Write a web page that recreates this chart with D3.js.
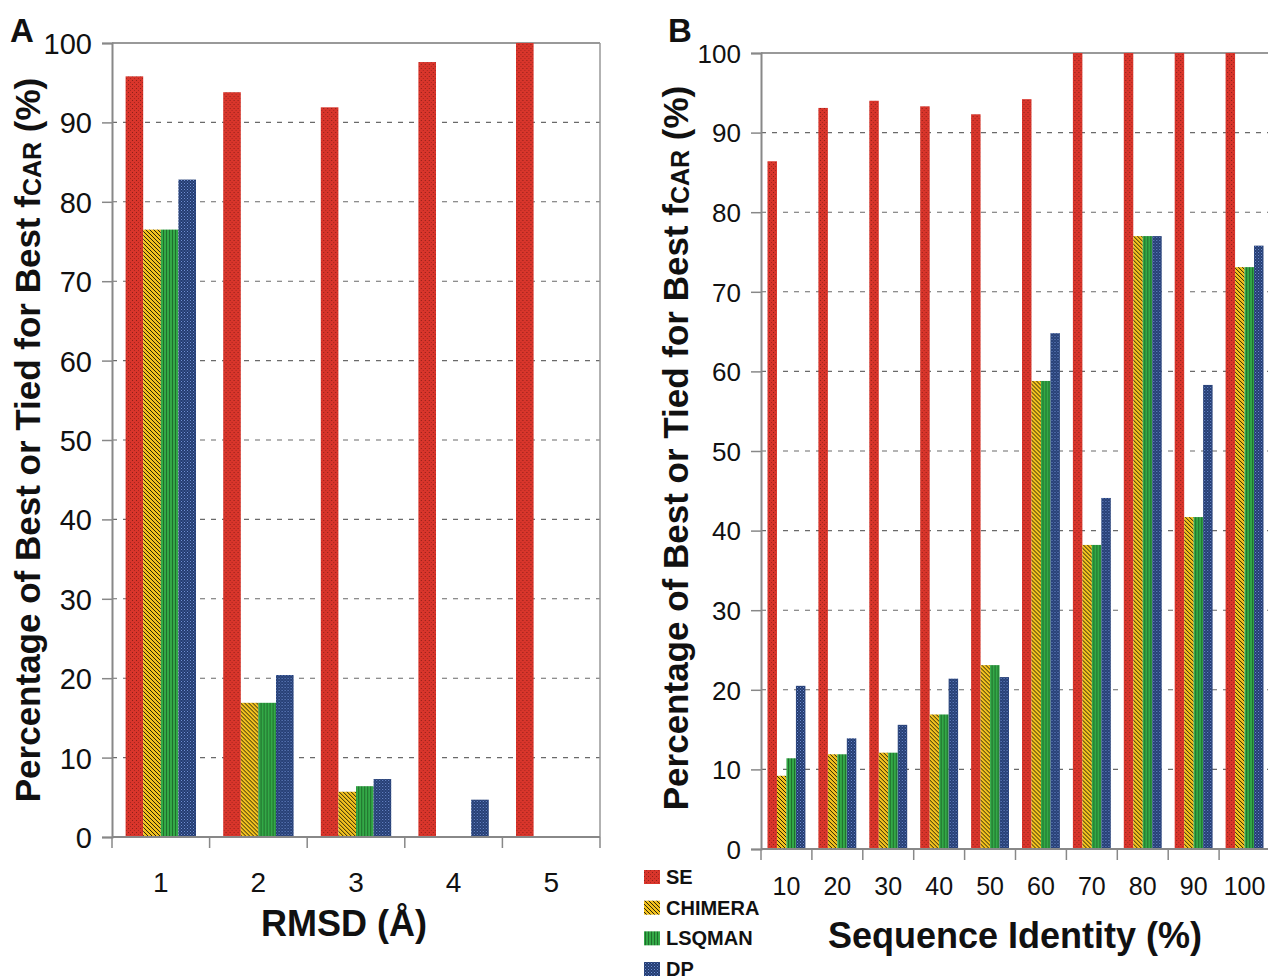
<!DOCTYPE html>
<html><head><meta charset="utf-8">
<script src="https://cdn.jsdelivr.net/npm/d3@7"></script>
<style>
html,body{margin:0;padding:0;background:#fff;}
svg{display:block;font-family:"Liberation Sans",Arial,sans-serif;}
</style></head>
<body>
<svg id="chart" width="1268" height="980"></svg>
<script>
// ---------- DATA ----------
const series = ["SE", "CHIMERA", "LSQMAN", "DP"];

// Panel A: RMSD (Å)
const rmsdCategories = ["1", "2", "3", "4", "5"];
const rmsdSE      = [95.8, 93.8, 91.9, 97.6, 100];
const rmsdCHIMERA = [76.5, 16.9, 5.7, 0, 0];
const rmsdLSQMAN  = [76.5, 16.9, 6.4, 0, 0];
const rmsdDP      = [82.8, 20.4, 7.3, 4.7, 0];

// Panel B: Sequence identity (%)
const seqCategories = ["10", "20", "30", "40", "50", "60", "70", "80", "90", "100"];
const seqSE      = [86.4, 93.1, 94.0, 93.3, 92.3, 94.2, 100, 100, 100, 100];
const seqCHIMERA = [9.2, 11.9, 12.1, 16.9, 23.1, 58.8, 38.2, 77.0, 41.7, 73.1];
const seqLSQMAN  = [11.4, 11.9, 12.1, 16.9, 23.1, 58.8, 38.2, 77.0, 41.7, 73.1];
const seqDP      = [20.5, 13.9, 15.6, 21.4, 21.6, 64.8, 44.1, 77.0, 58.3, 75.8];

const yTicks = [0, 10, 20, 30, 40, 50, 60, 70, 80, 90, 100];
const yTitleMain = "Percentage of Best or Tied for Best f";
const yTitleSub = "CAR";
const yTitleEnd = " (%)";
// ---------------------------

const svg = d3.select("#chart");
const defs = svg.append("defs");

// patterns
const pSE = defs.append("pattern").attr("id","pSE").attr("patternUnits","userSpaceOnUse").attr("width",4).attr("height",4);
pSE.append("rect").attr("width",4).attr("height",4).attr("fill","#d9352b");
pSE.append("rect").attr("x",0).attr("y",0).attr("width",1).attr("height",1).attr("fill","#8c2019");
pSE.append("rect").attr("x",2).attr("y",2).attr("width",1).attr("height",1).attr("fill","#a8261f");

const pCH = defs.append("pattern").attr("id","pCH").attr("patternUnits","userSpaceOnUse").attr("width",4).attr("height",4);
pCH.append("rect").attr("width",4).attr("height",4).attr("fill","#f3c11e");
pCH.append("path").attr("d","M-1,-1 L5,5 M3,-1 L5,1 M-1,3 L1,5").attr("stroke","#2a2508").attr("stroke-width",1);

const pLS = defs.append("pattern").attr("id","pLS").attr("patternUnits","userSpaceOnUse").attr("width",3).attr("height",3);
pLS.append("rect").attr("width",3).attr("height",3).attr("fill","#33a947");
pLS.append("rect").attr("x",0).attr("width",1).attr("height",3).attr("fill","#1f6e2c");

const pDP = defs.append("pattern").attr("id","pDP").attr("patternUnits","userSpaceOnUse").attr("width",3).attr("height",3);
pDP.append("rect").attr("width",3).attr("height",3).attr("fill","#243c70");
pDP.append("rect").attr("x",0).attr("y",0).attr("width",1).attr("height",1).attr("fill","#6f8fd4");
pDP.append("rect").attr("x",1.5).attr("y",1.5).attr("width",1).attr("height",1).attr("fill","#5777bb");

const fills = {SE:"url(#pSE)", CHIMERA:"url(#pCH)", LSQMAN:"url(#pLS)", DP:"url(#pDP)"};

function panel(cfg){
  const {cats, data, xr, yr, inner, tickFont, catFont, catBaseline, tickPad} = cfg;
  const x0 = d3.scaleBand().domain(cats).range(xr).padding(0);
  const x1 = d3.scaleBand().domain(series).range(inner).padding(0);
  const y = d3.scaleLinear().domain([0,100]).range(yr);
  const g = svg.append("g");

  // gridlines
  g.selectAll("line.grid").data(yTicks.filter(t=>t>0 && t<100)).join("line")
    .attr("x1", xr[0]).attr("x2", xr[1]).attr("y1", d=>y(d)).attr("y2", d=>y(d))
    .attr("stroke","#6a6a6a").attr("stroke-width",1.1).attr("stroke-dasharray","5,6");

  // frame top/right
  g.append("line").attr("x1",xr[0]).attr("x2",xr[1]).attr("y1",y(100)).attr("y2",y(100))
    .attr("stroke","#999").attr("stroke-width",2);
  g.append("line").attr("x1",xr[1]).attr("x2",xr[1]).attr("y1",y(100)).attr("y2",y(0))
    .attr("stroke","#999").attr("stroke-width",1.5);

  // bars
  const rows = cats.map((c,i)=>({cat:c, vals: series.map(s=>({s, v:data[s][i]}))}));
  const gg = g.selectAll("g.grp").data(rows).join("g").attr("transform", d=>`translate(${x0(d.cat)},0)`);
  gg.selectAll("rect").data(d=>d.vals.filter(e=>e.v>0)).join("rect")
    .attr("x", d=>x1(d.s)).attr("width", x1.bandwidth())
    .attr("y", d=>y(d.v)).attr("height", d=>y(0)-y(d.v))
    .attr("fill", d=>fills[d.s]);

  // y axis
  const ax = d3.axisLeft(y).tickValues(yTicks).tickSize(10).tickPadding(tickPad).tickFormat(d3.format("d"));
  const ya = g.append("g").attr("transform",`translate(${xr[0]},0)`).call(ax);
  ya.select(".domain").attr("stroke","#888").attr("stroke-width",2);
  ya.selectAll(".tick line").attr("stroke","#888").attr("stroke-width",1.5);
  ya.selectAll(".tick text").attr("font-size",tickFont).attr("fill","#111").attr("dy","0.36em")
    .attr("font-family","Liberation Sans, Arial, sans-serif");

  // x axis baseline + boundary ticks
  g.append("line").attr("x1",xr[0]).attr("x2",xr[1]).attr("y1",y(0)).attr("y2",y(0))
    .attr("stroke","#888").attr("stroke-width",2);
  const bounds = cats.map(c=>x0(c)).concat([xr[1]]);
  g.selectAll("line.xt").data(bounds).join("line")
    .attr("x1",d=>d).attr("x2",d=>d).attr("y1",y(0)).attr("y2",y(0)+11)
    .attr("stroke","#888").attr("stroke-width",1.5);
  g.selectAll("text.cat").data(cats).join("text")
    .attr("x", d=>x0(d)+x0.bandwidth()/2).attr("y", catBaseline)
    .attr("text-anchor","middle").attr("font-size",catFont).attr("fill","#111").text(d=>d);
  return {x0,y};
}

panel({
  cats: rmsdCategories,
  data: {SE:rmsdSE, CHIMERA:rmsdCHIMERA, LSQMAN:rmsdLSQMAN, DP:rmsdDP},
  xr:[112,600], yr:[837,43], inner:[13.6,84], tickFont:29, catFont:28, catBaseline:892, tickPad:10
});
panel({
  cats: seqCategories,
  data: {SE:seqSE, CHIMERA:seqCHIMERA, LSQMAN:seqLSQMAN, DP:seqDP},
  xr:[761,1270], yr:[849,53], inner:[6.5,44.4], tickFont:26, catFont:25, catBaseline:895, tickPad:10
});

// y-axis titles
function yTitle(x, yc){
  const t = svg.append("text").attr("transform",`translate(${x},${yc}) rotate(-90)`)
    .attr("text-anchor","middle").attr("font-size",35).attr("font-weight","bold").attr("fill","#111");
  t.append("tspan").text(yTitleMain);
  t.append("tspan").attr("font-size",25).attr("dy",1).text(yTitleSub);
  t.append("tspan").attr("font-size",35).attr("dy",-1).text(yTitleEnd);
}
yTitle(40, 440);
yTitle(688, 448);

// x titles
svg.append("text").attr("x",344).attr("y",936).attr("text-anchor","middle")
  .attr("font-size",36).attr("font-weight","bold").attr("fill","#111").text("RMSD (Å)");
svg.append("text").attr("x",1015).attr("y",948).attr("text-anchor","middle")
  .attr("font-size",36).attr("font-weight","bold").attr("fill","#111").text("Sequence Identity (%)");

// panel letters
svg.append("text").attr("x",10).attr("y",42).attr("font-size",33).attr("font-weight","bold").attr("fill","#111").text("A");
svg.append("text").attr("x",668).attr("y",42).attr("font-size",33).attr("font-weight","bold").attr("fill","#111").text("B");

// legend
const lg = svg.append("g");
const ly = d3.scalePoint().domain(series).range([884, 976]);
lg.selectAll("rect").data(series).join("rect")
  .attr("x",644).attr("y",d=>ly(d)-14).attr("width",16).attr("height",14).attr("fill",d=>fills[d]);
lg.selectAll("text").data(series).join("text")
  .attr("x",666).attr("y",d=>ly(d)).attr("font-size",20).attr("font-weight","bold").attr("fill","#111").text(d=>d);
</script>
</body></html>
